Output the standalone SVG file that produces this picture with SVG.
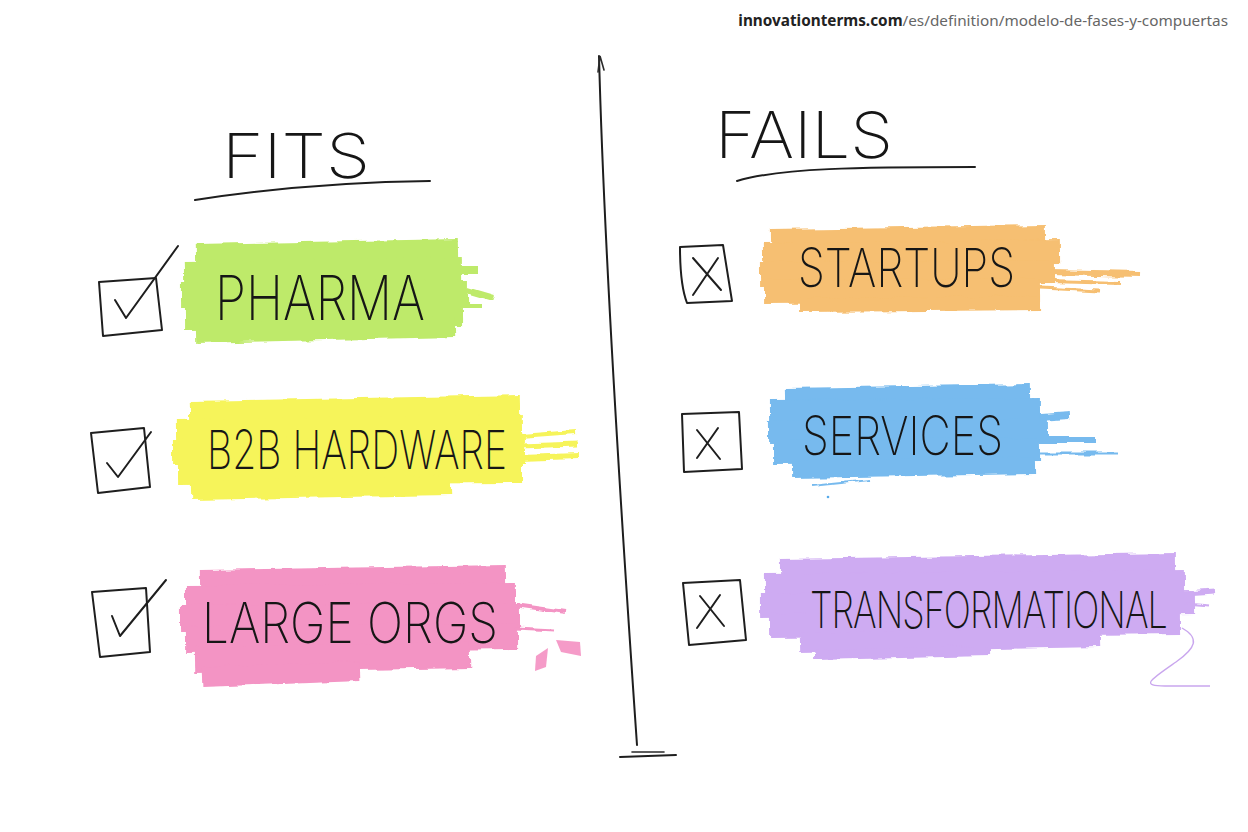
<svg xmlns="http://www.w3.org/2000/svg" width="1248" height="832" viewBox="0 0 1248 832">
<defs>
<filter id="rough" x="-5%" y="-20%" width="110%" height="140%">
<feTurbulence type="fractalNoise" baseFrequency="0.05 0.12" numOctaves="2" seed="3" result="n"/>
<feDisplacementMap in="SourceGraphic" in2="n" scale="6" xChannelSelector="R" yChannelSelector="G"/>
</filter>
<style>
.bg{fill:#ffffff}
.ink{fill:none;stroke:#1e1e1e;stroke-width:2;stroke-linecap:round;stroke-linejoin:round}
.inkthin{fill:none;stroke:#2a2a2a;stroke-width:1.6;stroke-linecap:round}
.hand{font-family:Inter,"Open Sans","DejaVu Sans",sans-serif;font-weight:200;fill:#161616}
.hl{opacity:0.8}
.hl path{fill:none;stroke-linecap:butt}
.green path{stroke:#afe545}
.yellow path{stroke:#f4f232}
.pink path{stroke:#f17ab6}
.orange path{stroke:#f5b04f}
.blue path{stroke:#56aaea}
.purple path{stroke:#c397ef}
.url{font-family:"Noto Sans","Open Sans",sans-serif;font-size:15.3px}
</style>
</defs>
<rect class="bg" x="0" y="0" width="1248" height="832"/>

<text class="url" x="1228" y="26" text-anchor="end"><tspan font-weight="700" fill="#222">innovationterms.com</tspan><tspan fill="#666">/es/definition/modelo-de-fases-y-compuertas</tspan></text>

<g id="divider">
<path class="ink" d="M599 56 C604 250 620 500 637 745"/>
<path class="inkthin" d="M598 72 L600 56 L604 70"/>
<path class="ink" d="M620 757 L676 755"/>
<path class="inkthin" d="M632 752 L664 752"/>
</g>

<g id="fits-header">
<text class="hand" x="222" y="178" font-size="62" textLength="148" lengthAdjust="spacingAndGlyphs">FITS</text>
<path class="ink" d="M195 200 C260 190 340 182 430 181"/>
</g>
<g id="fails-header">
<text class="hand" x="715" y="158" font-size="64" textLength="178" lengthAdjust="spacingAndGlyphs">FAILS</text>
<path class="ink" d="M737 181 C780 168 860 167 975 167"/>
</g>

<g id="pharma">
<g class="hl green" filter="url(#rough)">
<path d="M196 256 L458 251" stroke-width="24"/>
<path d="M184 274 L462 270" stroke-width="26"/>
<path d="M181 295 L468 293" stroke-width="26"/>
<path d="M185 316 L462 314" stroke-width="26"/>
<path d="M196 333 L456 327" stroke-width="20"/>
<path d="M460 270 L478 270" stroke-width="8"/>
<path d="M460 288 L494 298" stroke-width="6"/>
<path d="M460 306 L482 306" stroke-width="4"/>
</g>
<path class="ink" d="M99 282 L156 278 L162 330 L103 336 Z"/>
<path class="ink" d="M115 300 L126 318 L178 246"/>
<text class="hand" x="215" y="320" font-size="62" textLength="210" lengthAdjust="spacingAndGlyphs">PHARMA</text>
</g>

<g id="b2b-hardware">
<g class="hl yellow" filter="url(#rough)">
<path d="M190 413 L520 407" stroke-width="24"/>
<path d="M176 432 L522 428" stroke-width="26"/>
<path d="M172 452 L525 450" stroke-width="26"/>
<path d="M178 472 L522 470" stroke-width="26"/>
<path d="M192 490 L450 485" stroke-width="20"/>
<path d="M520 436 L575 432" stroke-width="4"/>
<path d="M520 446 L578 444" stroke-width="5"/>
<path d="M520 458 L578 456" stroke-width="6"/>
</g>
<path class="ink" d="M91 433 L144 428 L150 487 L98 493 Z"/>
<path class="ink" d="M107 463 L118 477 L151 432"/>
<text class="hand" x="207" y="469" font-size="54" textLength="300" lengthAdjust="spacingAndGlyphs">B2B HARDWARE</text>
</g>

<g id="large-orgs">
<g class="hl pink" filter="url(#rough)">
<path d="M200 581 L505 576" stroke-width="22"/>
<path d="M185 598 L515 596" stroke-width="26"/>
<path d="M180 618 L520 616" stroke-width="26"/>
<path d="M185 640 L518 636" stroke-width="26"/>
<path d="M195 660 L470 655" stroke-width="26"/>
<path d="M202 677 L360 671" stroke-width="20"/>
<path d="M515 605 L565 612" stroke-width="4"/>
<path d="M515 628 L555 630" stroke-width="3"/>
</g>
<path d="M536 656 L548 648 L546 667 L535 671 Z" fill="#f17ab6" opacity="0.75"/>
<path d="M556 640 L580 642 L581 656 L561 652 Z" fill="#f17ab6" opacity="0.75"/>
<path class="ink" d="M92 592 L146 588 L150 652 L100 657 Z"/>
<path class="ink" d="M112 616 L120 636 L166 580"/>
<text class="hand" x="202" y="643" font-size="56" textLength="296" lengthAdjust="spacingAndGlyphs">LARGE ORGS</text>
</g>

<g id="startups">
<g class="hl orange" filter="url(#rough)">
<path d="M770 239 L1045 235" stroke-width="20"/>
<path d="M762 255 L1060 252" stroke-width="24"/>
<path d="M760 274 L1055 272" stroke-width="24"/>
<path d="M765 292 L1040 290" stroke-width="24"/>
<path d="M800 305 L1040 303" stroke-width="14"/>
<path d="M1050 272 L1140 274" stroke-width="6"/>
<path d="M1050 281 L1120 283" stroke-width="4"/>
<path d="M1040 288 L1100 291" stroke-width="3"/>
</g>
<path class="ink" d="M680 247 L723 245 L732 301 L687 303 C682 290 680 270 680 247 Z"/>
<path class="ink" d="M693 258 L721 290 M718 258 L693 295"/>
<text class="hand" x="798" y="287" font-size="54" textLength="217" lengthAdjust="spacingAndGlyphs">STARTUPS</text>
</g>

<g id="services">
<g class="hl blue" filter="url(#rough)">
<path d="M785 397 L1030 393" stroke-width="18"/>
<path d="M770 412 L1040 410" stroke-width="24"/>
<path d="M768 432 L1048 430" stroke-width="24"/>
<path d="M772 452 L1040 450" stroke-width="24"/>
<path d="M792 469 L1035 465" stroke-width="18"/>
<path d="M1040 418 L1070 416" stroke-width="8"/>
<path d="M1040 440 L1095 440" stroke-width="6"/>
<path d="M1040 453 L1118 453" stroke-width="3"/>
<path d="M812 486 L870 480" stroke-width="2"/>
</g>
<circle cx="828" cy="497" r="1.3" fill="#56aaea"/>
<path class="ink" d="M682 414 L739 412 L742 469 L684 472 Z"/>
<path class="ink" d="M697 430 L720 459 M718 428 L697 458"/>
<text class="hand" x="802" y="455" font-size="54" textLength="201" lengthAdjust="spacingAndGlyphs">SERVICES</text>
</g>

<g id="transformational">
<g class="hl purple" filter="url(#rough)">
<path d="M780 569 L1175 563" stroke-width="20"/>
<path d="M765 586 L1185 582" stroke-width="24"/>
<path d="M760 606 L1195 602" stroke-width="24"/>
<path d="M770 626 L1180 622" stroke-width="24"/>
<path d="M800 643 L1100 637" stroke-width="20"/>
<path d="M815 655 L990 651" stroke-width="10"/>
<path d="M1185 594 L1215 592" stroke-width="5"/>
<path d="M1185 603 L1210 605" stroke-width="3"/>
</g>
<path d="M1182 628 C1200 638 1196 648 1176 662 C1150 680 1140 686 1165 686 L1210 686" fill="none" stroke="#c9a6ee" stroke-width="1.3"/>
<path class="ink" d="M683 583 L740 580 L746 640 L689 645 Z"/>
<path class="ink" d="M700 596 L724 626 M720 595 L697 628"/>
<text class="hand" transform="translate(810 628) scale(0.72 1)" x="0" y="0" font-size="50" textLength="497" lengthAdjust="spacing">TRANSFORMATIONAL</text>
</g>
</svg>
